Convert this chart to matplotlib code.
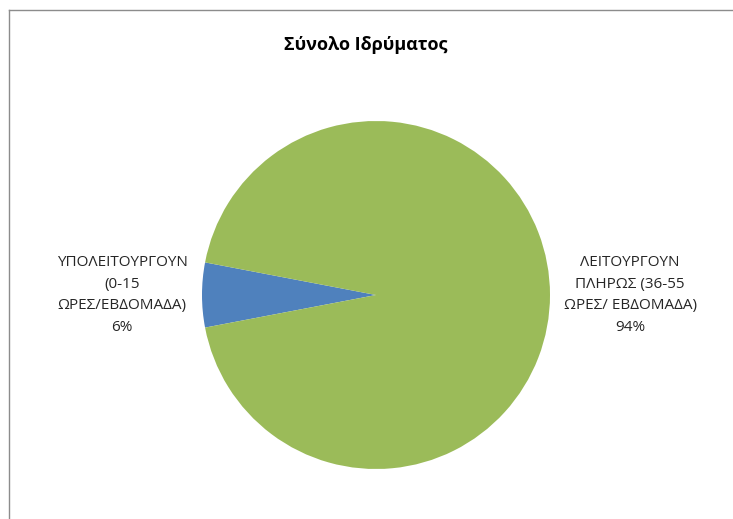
import matplotlib
matplotlib.use("Agg")
import matplotlib.pyplot as plt
from matplotlib.lines import Line2D

title = "Σύνολο Ιδρύματος"
labels = ["ΥΠΟΛΕΙΤΟΥΡΓΟΥΝ\n(0-15\nΩΡΕΣ/ΕΒΔΟΜΑΔΑ)\n6%",
          "ΛΕΙΤΟΥΡΓΟΥΝ\nΠΛΗΡΩΣ (36-55\nΩΡΕΣ/ ΕΒΔΟΜΑΔΑ)\n94%"]
values = [6, 94]
colors = ["#4F81BD", "#9BBB59"]

plt.rcParams["font.family"] = ["Open Sans", "DejaVu Sans"]

W, H = 733, 519
fig = plt.figure(figsize=(W / 100, H / 100), dpi=100)

# chart frame (only left and top edges are visible in the crop)
fig.add_artist(Line2D([8.5 / W, 8.5 / W], [0, 1 - 10 / H], color="#8c8c8c", lw=1))
fig.add_artist(Line2D([8.5 / W, 1], [1 - 10 / H, 1 - 10 / H], color="#8c8c8c", lw=1))

cx, cy, r = 376, 295, 174
ax = fig.add_axes([(cx - r) / W, (H - cy - r) / H, 2 * r / W, 2 * r / H])
start = 180 - values[0] / sum(values) * 360 / 2
wedges, texts = ax.pie(values, colors=colors, startangle=start, counterclock=True,
                       labels=labels, labeldistance=1.46,
                       textprops=dict(fontsize=11, color="#262626", linespacing=1.6))
for t in texts:
    t.set_horizontalalignment("center")
    t.set_verticalalignment("center")
ax.set_xlim(-1, 1)
ax.set_ylim(-1, 1)
ax.set_aspect("equal")
ax.axis("off")

fig.text(366 / W, 1 - 45 / H, title, ha="center", va="center",
         fontsize=13, fontweight="bold", color="black")

fig.savefig("out.png", dpi=100)
